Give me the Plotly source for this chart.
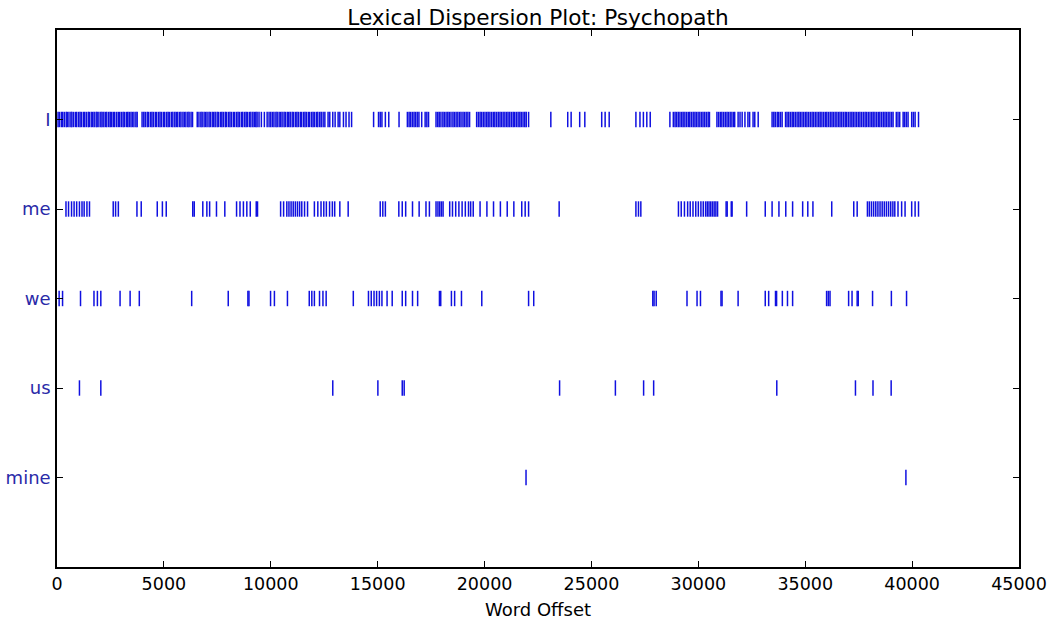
import plotly.graph_objects as go

# Word offsets at which each target word occurs in the text
words = ["I", "me", "we", "us", "mine"]

offsets_I = [
    50, 120, 210, 260, 340, 430, 480, 560, 650, 700, 780, 870, 920, 1010, 1080,
    1150, 1240, 1290, 1370, 1460, 1510, 1600, 1670, 1740, 1830, 1880, 1960, 2050,
    2110, 2190, 2270, 2330, 2420, 2490, 2560, 2640, 2700, 2790, 2870, 2930, 3010,
    3090, 3150, 3240, 3310, 3380, 3460, 3530, 3600, 3690, 3750,
    3980, 4060, 4130, 4220, 4280, 4370, 4440, 4510, 4600, 4660, 4750, 4820, 4890,
    4980, 5040, 5130, 5200, 5270, 5360, 5420, 5510, 5580, 5650, 5740, 5800, 5890,
    5960, 6030, 6120, 6180, 6270, 6340,
    6560, 6640, 6730, 6790, 6880, 6950, 7020, 7110, 7170, 7260, 7330, 7400, 7490,
    7550, 7640, 7710, 7780, 7870, 7930, 8020, 8090, 8160, 8250, 8310, 8400, 8470,
    8540, 8630, 8690, 8780, 8850, 8920, 9010, 9070, 9160, 9230, 9300, 9360,
    9450, 9560, 9700, 9830, 9920,
    10000, 10080, 10150, 10240, 10300, 10390, 10460, 10530, 10620, 10680, 10770,
    10840, 10910, 11000, 11060, 11150, 11220, 11290, 11380, 11440, 11530, 11600,
    11670, 11760, 11820, 11910, 11980, 12050, 12140, 12200, 12290, 12360,
    12450, 12530, 12680, 12760, 12900, 13010, 13150, 13230, 13400, 13520, 13660, 13780,
    14810, 15040, 15120, 15200, 15360, 15520, 16000,
    16390, 16470, 16540, 16620, 16700, 16770, 16850, 16930, 17060, 17220, 17300,
    17380, 17730, 17810, 17880, 17960, 18050, 18120, 18200, 18280, 18350, 18430,
    18520, 18590, 18670, 18750, 18830, 18900, 18990, 19060, 19140, 19220, 19300,
    19630, 19710, 19790, 19860, 19940, 20020, 20100, 20170, 20250, 20330, 20410,
    20480, 20560, 20640, 20720, 20790, 20870, 20950, 21030, 21100, 21180, 21260,
    21340, 21410, 21490, 21570, 21650, 21720, 21800, 21880, 21950, 22060,
    23100, 23890, 24050, 24450, 24690, 25480, 25640, 25830,
    27080, 27270, 27430, 27590, 27750, 28670,
    28830, 28910, 28980, 29060, 29140, 29220, 29290, 29370, 29450, 29530, 29600,
    29680, 29760, 29840, 29910, 29990, 30070, 30150, 30220, 30300, 30380, 30460,
    30520, 30870, 30950, 31030, 31100, 31180, 31260, 31340, 31410, 31490, 31570,
    31650, 31700,
    31860, 31950, 32050, 32180, 32320, 32400, 32560, 32640, 32800,
    33450, 33530, 33600, 33690, 33760, 33840, 33920, 34080, 34150, 34230, 34310,
    34390, 34460, 34540, 34620, 34700, 34770, 34850, 34930, 35010, 35080, 35160,
    35240, 35320, 35390, 35470, 35550, 35630, 35700, 35780, 35860, 35940, 36010,
    36090, 36170, 36250, 36320, 36400, 36480, 36560, 36630, 36710, 36790, 36870,
    36940, 37020, 37100, 37180, 37250, 37330, 37410, 37490, 37560, 37640, 37720,
    37800, 37870, 37950, 38030, 38110, 38180, 38260, 38340, 38420, 38490, 38570,
    38650, 38730, 38800, 38880, 38960, 39040, 39110, 39260, 39340, 39420, 39580,
    39650, 39730, 39810, 39980, 40060, 40140, 40300,
]

offsets_me = [
    420, 540, 680, 800, 920, 1050, 1170, 1270, 1400, 1520,
    2630, 2740, 2870, 3740, 3940, 4690, 4930, 5110, 6350, 6420,
    6820, 7010, 7140, 7460, 7850, 8400, 8560, 8720, 8880, 9040, 9320, 9380,
    10460, 10600, 10750, 10850, 10950, 11050, 11150, 11250, 11350, 11450, 11580, 11720,
    12040, 12200, 12350, 12480, 12600, 12750, 12880, 12990, 13230, 13620,
    15120, 15240, 15360, 15990, 16150, 16310, 16630, 16940, 17260, 17420,
    17730, 17820, 17900, 17980, 18060,
    18370, 18500, 18650, 18800, 18950, 19100, 19250, 19350, 19470,
    19790, 20110, 20420, 20740, 21060, 21370, 21740, 21900, 22060,
    23490, 27080, 27200, 27310,
    29070, 29200, 29350, 29500, 29620, 29750, 29880, 30000, 30120, 30230, 30340,
    30420, 30500, 30580, 30660, 30740, 30820, 30900,
    31300, 31350, 31540, 31580, 32260,
    33130, 33450, 33770, 34090, 34410, 34880, 35120, 35360, 36240, 37270, 37430,
    37910, 38000, 38100, 38200, 38300, 38400, 38500, 38600, 38700, 38800, 38900,
    39000, 39100, 39190, 39340, 39510, 39670, 39980, 40140, 40300,
]

offsets_we = [
    100, 260, 1100, 1730, 1890, 2050, 2950, 3420, 3850, 6300, 8010, 8930, 8980,
    9990, 10170, 10780, 11800, 11920, 12040, 12280, 12440, 12590, 13860,
    14570, 14700, 14830, 14950, 15080, 15200, 15440, 15680, 16150, 16310,
    16630, 16870, 17890, 17950, 18450, 18600, 18920, 19870, 22060, 22300,
    27870, 27930, 28030, 29470, 29940, 30100, 31060, 31110, 31860,
    33130, 33290, 33610, 33660, 33930, 34170, 34410, 36000, 36080, 36160,
    37030, 37190, 37430, 37480, 38150, 39030, 39740,
]

offsets_us = [
    1050, 2050, 12900, 15010, 16150, 16240, 23510, 26120, 27440, 27910,
    33670, 37350, 38170, 39020,
]

offsets_mine = [21940, 39710]

series = [offsets_I, offsets_me, offsets_we, offsets_us, offsets_mine]

x_ticks = [0, 5000, 10000, 15000, 20000, 25000, 30000, 35000, 40000, 45000]

MARK_BLUE = "#1010e0"
LABEL_BLUE = "#2a2aa8"
FONT = "DejaVu Sans"

fig = go.Figure()
n = len(words)
for i, (word, xs) in enumerate(zip(words, series)):
    row = n - 1 - i  # first word drawn on the top row
    fig.add_trace(go.Scatter(
        x=xs,
        y=[row] * len(xs),
        mode="markers",
        name=word,
        marker=dict(symbol="line-ns-open", size=11, color=MARK_BLUE,
                    line=dict(width=1.5, color=MARK_BLUE)),
        hoverinfo="x+name",
    ))

fig.update_layout(
    width=1054,
    height=625,
    margin=dict(l=57, r=35, t=30, b=58),
    paper_bgcolor="white",
    plot_bgcolor="white",
    showlegend=False,
    font=dict(family=FONT, size=18, color="black"),
    title=dict(
        text="Lexical Dispersion Plot: Psychopath",
        x=538 / 1054, xanchor="center",
        y=1 - 17 / 625, yanchor="middle",
        font=dict(family=FONT, size=21.6, color="black"),
    ),
)

fig.update_xaxes(
    range=[0, 45000],
    tickvals=x_ticks,
    ticktext=[str(v) for v in x_ticks],
    ticks="inside", ticklen=6, tickwidth=1, tickcolor="black",
    showline=True, linecolor="black", linewidth=1.5, mirror="ticks",
    showgrid=False, zeroline=False, automargin=False,
    tickfont=dict(family=FONT, size=17.5, color="black"),
    title=dict(text="Word Offset", standoff=11,
               font=dict(family=FONT, size=18, color="black")),
)

fig.update_yaxes(
    range=[-1, n],
    tickvals=list(range(n)),
    ticktext=list(reversed(words)),
    ticks="inside", ticklen=6, tickwidth=1, tickcolor="black",
    showline=True, linecolor="black", linewidth=1.5, mirror="ticks",
    showgrid=False, zeroline=False, automargin=False,
    ticklabelstandoff=1,
    tickfont=dict(family=FONT, size=18, color=LABEL_BLUE),
)

fig.write_html("out.html")
